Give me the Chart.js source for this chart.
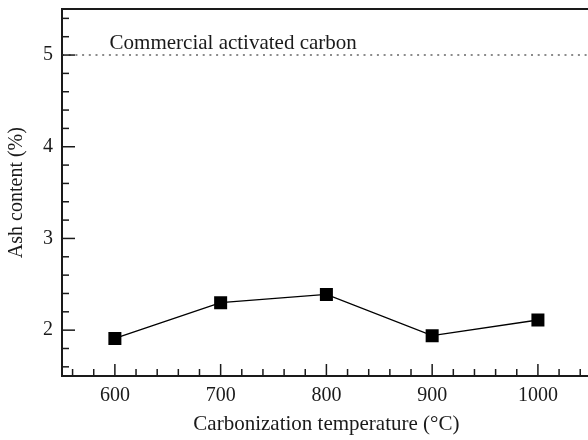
<!DOCTYPE html>
<html>

<head>
  <title>Ash content vs carbonization temperature</title>
  <meta charset="UTF-8">
  <script src="https://cdn.jsdelivr.net/npm/chart.js@4.4.0/dist/chart.umd.min.js"></script>
  <style>
    body { margin: 0; overflow: hidden; background: #fff; }
  </style>
</head>

<body>
  <canvas id="myChart" width="600" height="440"></canvas>
  <script>
    // values
    var temps = [600, 700, 800, 900, 1000];
    var ash = [1.91, 2.30, 2.39, 1.94, 2.11];
    var commercialAsh = 5;
    var commercialLabel = "Commercial activated carbon";

    // axis ticks
    var xMajor = [600, 700, 800, 900, 1000];
    var xMinor = [560, 580, 620, 640, 660, 680, 720, 740, 760, 780, 820, 840, 860, 880, 920, 940, 960, 980, 1020, 1040];
    var yMajor = [2, 3, 4, 5];
    var yMinor = [1.6, 1.8, 2.2, 2.4, 2.6, 2.8, 3.2, 3.4, 3.6, 3.8, 4.2, 4.4, 4.6, 4.8, 5.2, 5.4];

    var serif = "'Liberation Serif', 'Times New Roman', serif";
    var ink = "#1a1a1a";

    var points = temps.map(function(t, i) { return { x: t, y: ash[i] }; });

    // inward tick marks, drawn through the scales
    var tickPlugin = {
      id: "inwardTicks",
      afterDraw: function(chart) {
        var ctx = chart.ctx;
        var xs = chart.scales.x, ys = chart.scales.y;
        var area = chart.chartArea;
        ctx.save();
        ctx.strokeStyle = ink;
        ctx.lineWidth = 1.5;
        function xt(vals, len) {
          vals.forEach(function(v) {
            var p = xs.getPixelForValue(v);
            ctx.beginPath();
            ctx.moveTo(p, area.bottom);
            ctx.lineTo(p, area.bottom - len);
            ctx.stroke();
          });
        }
        function yt(vals, len) {
          vals.forEach(function(v) {
            var p = ys.getPixelForValue(v);
            ctx.beginPath();
            ctx.moveTo(area.left, p);
            ctx.lineTo(area.left + len, p);
            ctx.stroke();
          });
        }
        xt(xMajor, 12); xt(xMinor, 7);
        yt(yMajor, 13); yt(yMinor, 7);

        // label above the reference line
        ctx.fillStyle = ink;
        ctx.font = "21px " + serif;
        ctx.textAlign = "left";
        ctx.textBaseline = "alphabetic";
        ctx.fillText(commercialLabel, xs.getPixelForValue(595), ys.getPixelForValue(commercialAsh) - 6);
        ctx.restore();
      }
    };

    function noPad(s) {
      s.paddingTop = 0; s.paddingBottom = 0;
      s.paddingLeft = 0; s.paddingRight = 0;
    }

    var ctx = document.getElementById("myChart").getContext("2d");
    var chart = new Chart(ctx, {
      type: "line",
      data: {
        datasets: [{
          data: points,
          borderColor: "#000",
          borderWidth: 1.4,
          pointStyle: "rect",
          pointRadius: 9.2,
          pointBorderWidth: 0,
          pointBackgroundColor: "#000",
          tension: 0
        }, {
          data: [{ x: 550, y: commercialAsh }, { x: 1050, y: commercialAsh }],
          borderColor: "#666",
          borderWidth: 1.6,
          borderDash: [2, 4.7],
          pointRadius: 0
        }]
      },
      options: {
        responsive: false,
        animation: false,
        layout: { padding: { top: 8, right: 8, left: 0, bottom: 0 } },
        plugins: { legend: { display: false }, tooltip: { enabled: false } },
        scales: {
          x: {
            type: "linear",
            position: "bottom",
            min: 550,
            max: 1050,
            afterFit: function(s) { s.height = 64; noPad(s); },
            afterBuildTicks: function(s) { s.ticks = xMajor.map(function(v) { return { value: v }; }); },
            grid: { display: false, drawTicks: false, tickLength: 0 },
            border: { display: true, color: ink, width: 2 },
            ticks: {
              color: ink,
              padding: 8,
              font: { family: serif, size: 20 },
              callback: function(v) { return String(v); }
            },
            title: {
              display: true,
              text: "Carbonization temperature (°C)",
              color: ink,
              padding: { bottom: 3 },
              font: { family: serif, size: 21 }
            }
          },
          x2: {
            type: "linear",
            position: "top",
            min: 550,
            max: 1050,
            afterFit: function(s) { s.height = 0; noPad(s); },
            grid: { display: false, drawTicks: false, tickLength: 0 },
            border: { display: true, color: ink, width: 2 },
            ticks: { display: false }
          },
          y: {
            min: 1.5,
            max: 5.5,
            afterFit: function(s) { s.width = 62; noPad(s); },
            afterBuildTicks: function(s) { s.ticks = yMajor.map(function(v) { return { value: v }; }); },
            grid: { display: false, drawTicks: false, tickLength: 0 },
            border: { display: true, color: ink, width: 2 },
            ticks: { color: ink, padding: 9, font: { family: serif, size: 20 } },
            title: {
              display: true,
              text: "Ash content (%)",
              color: ink,
              padding: { top: 5 },
              font: { family: serif, size: 20 }
            }
          }
        }
      },
      plugins: [tickPlugin]
    });
  </script>
</body>

</html>
